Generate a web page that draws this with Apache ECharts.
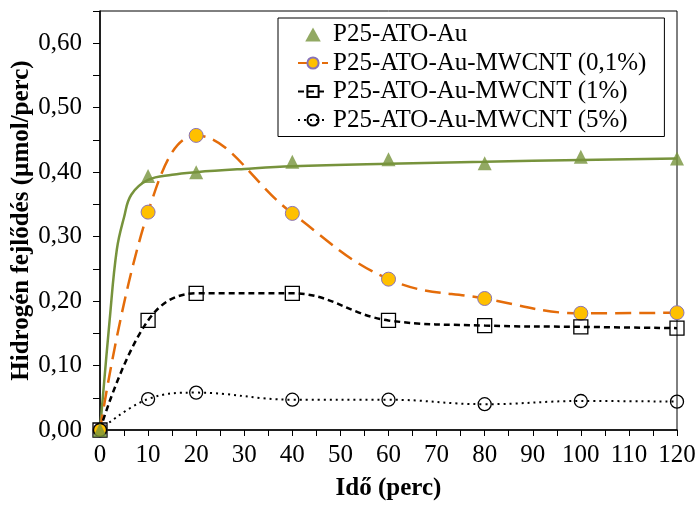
<!DOCTYPE html>
<html lang="hu">
<head>
    <meta charset="UTF-8">
    <title>Hidrogén fejlődés</title>
    <script src="https://cdn.jsdelivr.net/npm/echarts@6.0.0/dist/echarts.min.js"></script>
</head>
<body style="margin:0">
    <div id="main" style="width: 698px;height:505px;"></div>
    <script type="text/javascript">
        // measured points (time in minutes)
        const times = [0, 10, 20, 40, 60, 80, 100, 120];
        const atoAu = [0, 0.394, 0.400, 0.416, 0.420, 0.414, 0.424, 0.421];
        const mwcnt01 = [0, 0.338, 0.457, 0.336, 0.234, 0.204, 0.181, 0.182];
        const mwcnt1 = [0, 0.170, 0.212, 0.212, 0.170, 0.162, 0.160, 0.158];
        const mwcnt5 = [0, 0.048, 0.058, 0.047, 0.047, 0.040, 0.045, 0.044];

        // trend line of P25-ATO-Au
        const trendX = [0, 2, 3.5, 5, 6.5, 10, 15, 20, 30, 40, 60, 80, 100, 120];
        const trendY = [0, 0.17, 0.28, 0.33, 0.365, 0.388, 0.396, 0.400, 0.405, 0.409, 0.413, 0.416, 0.419, 0.421];

        const names = ['P25-ATO-Au', 'P25-ATO-Au-MWCNT (0,1%)', 'P25-ATO-Au-MWCNT (1%)', 'P25-ATO-Au-MWCNT (5%)'];

        const pairs = (xs, ys) => xs.map((x, i) => [x, ys[i]]);
        const font = 'Liberation Serif';
        const fs = 25;

        const myChart = echarts.init(document.getElementById('main'));

        const option = {
            animation: false,
            textStyle: { fontFamily: font, color: '#000' },
            grid: {
                left: 100, right: 21, top: 11, bottom: 75,
                containLabel: false,
                outerBoundsMode: 'none',
                show: true, borderColor: '#000', borderWidth: 1
            },
            legend: {
                data: [
                    { name: names[0], icon: 'path://M5,0L10,9L0,9Z' },
                    names[1], names[2], names[3]
                ],
                left: 278, top: 18,
                orient: 'vertical',
                backgroundColor: '#fff',
                borderColor: '#000',
                borderWidth: 1,
                padding: [4, 18, 4, 19],
                itemWidth: 30, itemHeight: 14, itemGap: 3.5,
                textStyle: { fontFamily: font, fontSize: fs, color: '#000' }
            },
            xAxis: {
                type: 'value',
                min: 0, max: 120, interval: 5,
                name: 'Idő (perc)',
                nameLocation: 'middle',
                nameGap: 46,
                nameMoveOverlap: false,
                nameTextStyle: { fontFamily: font, fontSize: fs, fontWeight: 'bold', color: '#000' },
                splitLine: { show: false },
                axisLine: { lineStyle: { color: '#000', width: 1.5 } },
                axisTick: { inside: false, length: 6, lineStyle: { color: '#000' } },
                axisLabel: {
                    fontFamily: font, fontSize: fs, color: '#000', margin: 13,
                    formatter: v => (Math.round(v) % 10 === 0 ? String(v) : '')
                }
            },
            yAxis: {
                type: 'value',
                min: 0, max: 0.65, interval: 0.05,
                name: 'Hidrogén fejlődés (µmol/perc)',
                nameLocation: 'middle',
                nameGap: 66,
                nameMoveOverlap: false,
                nameTextStyle: { fontFamily: font, fontSize: fs, fontWeight: 'bold', color: '#000' },
                splitLine: { show: false },
                axisLine: { lineStyle: { color: '#000', width: 1.5 } },
                axisTick: { inside: false, length: 7, lineStyle: { color: '#000' } },
                axisLabel: {
                    fontFamily: font, fontSize: fs, color: '#000', margin: 18,
                    formatter: v => {
                        const c = Math.round(v * 100);
                        return (c % 10 === 0 && c <= 60) ? (c / 100).toFixed(2).replace('.', ',') : '';
                    }
                }
            },
            series: [
                {
                    name: 'trend',
                    type: 'line',
                    data: pairs(trendX, trendY),
                    smooth: 0.4,
                    showSymbol: false,
                    silent: true,
                    lineStyle: { color: '#77933C', width: 2.5 },
                    z: 2
                },
                {
                    name: names[1],
                    type: 'line',
                    data: pairs(times, mwcnt01),
                    smooth: 0.4,
                    symbol: 'circle',
                    symbolSize: 14,
                    lineStyle: { color: '#E46C0A', width: 2.5, type: [16, 8] },
                    itemStyle: { color: '#FFC000', borderColor: '#8872B8', borderWidth: 1 },
                    z: 3
                },
                {
                    name: names[2],
                    type: 'line',
                    data: pairs(times, mwcnt1),
                    smooth: 0.4,
                    symbol: 'rect',
                    symbolSize: 14,
                    lineStyle: { color: '#000', width: 2.5, type: [6, 4] },
                    itemStyle: { color: 'rgba(255,255,255,0)', borderColor: '#000', borderWidth: 1.3 },
                    z: 3
                },
                {
                    name: names[3],
                    type: 'line',
                    data: pairs(times, mwcnt5),
                    smooth: 0.4,
                    symbol: 'circle',
                    symbolSize: 13,
                    lineStyle: { color: '#000', width: 2, type: [2, 4] },
                    itemStyle: { color: 'rgba(255,255,255,0)', borderColor: '#000', borderWidth: 1.3 },
                    z: 3
                },
                {
                    name: names[0],
                    type: 'scatter',
                    data: pairs(times, atoAu),
                    symbol: 'triangle',
                    symbolSize: 14,
                    itemStyle: { color: '#77933C' },
                    z: 4
                }
            ]
        };

        myChart.setOption(option);
    </script>
</body>
</html>
